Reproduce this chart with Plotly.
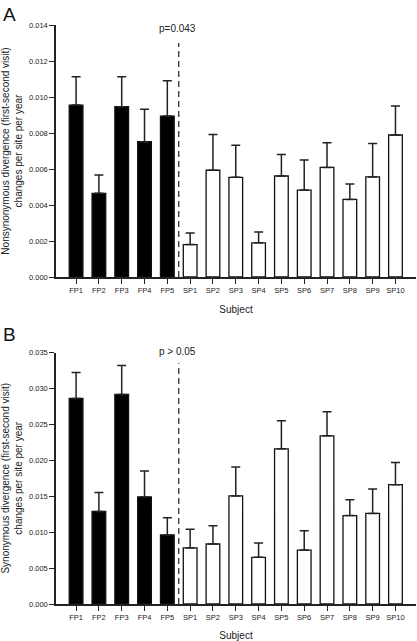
import plotly.graph_objects as go

subjects = ["FP1", "FP2", "FP3", "FP4", "FP5", "SP1", "SP2", "SP3", "SP4", "SP5",
            "SP6", "SP7", "SP8", "SP9", "SP10"]
groups = ["FP"] * 5 + ["SP"] * 10

nonsyn_mean = [0.00955, 0.00465, 0.00946, 0.00752, 0.00894, 0.0018, 0.00593, 0.00554,
               0.0019, 0.00561, 0.00483, 0.00609, 0.00431, 0.00556, 0.00789]
nonsyn_upper = [0.01113, 0.00567, 0.01113, 0.00932, 0.0109, 0.00245, 0.00791, 0.00732,
                0.0025, 0.0068, 0.0065, 0.00746, 0.00517, 0.00741, 0.0095]

syn_mean = [0.0286, 0.01287, 0.02917, 0.0149, 0.0096, 0.0078, 0.00835, 0.01504,
            0.0065, 0.0216, 0.0075, 0.0234, 0.0123, 0.0126, 0.0166]
syn_upper = [0.0322, 0.0155, 0.0332, 0.0185, 0.012, 0.0104, 0.0109, 0.01907,
             0.0085, 0.0255, 0.0102, 0.02675, 0.0145, 0.016, 0.0197]

nonsyn_ticks = [0.0, 0.002, 0.004, 0.006, 0.008, 0.010, 0.012, 0.014]
syn_ticks = [0.0, 0.005, 0.010, 0.015, 0.020, 0.025, 0.030, 0.035]

FONT = "Liberation Sans, Arial, sans-serif"
W, H = 417, 641

x_idx = list(range(len(subjects)))
fill = ["#000000" if g == "FP" else "#ffffff" for g in groups]

fig = go.Figure()


def add_panel(means, uppers, xa, ya):
    plus = [u - m for u, m in zip(uppers, means)]
    fig.add_trace(go.Bar(
        x=x_idx, y=means, width=0.6,
        marker=dict(color=fill, line=dict(color="#111111", width=1.3)),
        error_y=dict(type="data", symmetric=False, array=plus,
                     arrayminus=[0] * len(plus), color="#222222",
                     thickness=1.5, width=4.5),
        xaxis=xa, yaxis=ya, showlegend=False, hoverinfo="skip",
    ))


add_panel(nonsyn_mean, nonsyn_upper, "x", "y")
add_panel(syn_mean, syn_upper, "x2", "y2")

x_dom = [56 / W, 416 / W]
yA = [(H - 277) / H, (H - 25) / H]
yB = [(H - 604) / H, (H - 352.5) / H]

axis_common = dict(showline=True, linecolor="#222222", linewidth=1.5, ticks="outside",
                   tickcolor="#222222", ticklen=5, tickwidth=1.2, showgrid=False,
                   zeroline=False, automargin=False,
                   tickfont=dict(family=FONT, size=7.5, color="#222222"))

xcommon = dict(axis_common, tickmode="array", tickvals=x_idx, ticktext=subjects,
               range=[-0.88, 14.9], domain=x_dom)

TF = dict(family=FONT, size=10, color="#222222")

fig.update_layout(
    width=W, height=H,
    margin=dict(l=0, r=0, t=0, b=0),
    paper_bgcolor="white", plot_bgcolor="white",
    bargap=0.4,
    xaxis=dict(xcommon, anchor="y", title=dict(text="Subject", font=TF, standoff=12)),
    yaxis=dict(axis_common, domain=yA, range=[0, 0.014], tickvals=nonsyn_ticks,
               tickformat=".3f", anchor="x",
               title=dict(text="Nonsynonymous divergence (first-second visit)<br>changes per site per year",
                          font=TF, standoff=4)),
    xaxis2=dict(xcommon, anchor="y2", title=dict(text="Subject", font=TF, standoff=12)),
    yaxis2=dict(axis_common, domain=yB, range=[0, 0.035], tickvals=syn_ticks,
                tickformat=".3f", anchor="x2",
                title=dict(text="Synonymous divergence (first-second visit)<br>changes per site per year",
                           font=TF, standoff=4)),
)

# dashed separators and p-values
fig.add_shape(type="line", xref="x", yref="y", x0=4.5, x1=4.5, y0=0, y1=0.013,
              line=dict(color="#222222", width=1.2, dash="6px,4px"))
fig.add_shape(type="line", xref="x2", yref="y2", x0=4.5, x1=4.5, y0=0, y1=0.0335,
              line=dict(color="#222222", width=1.2, dash="6px,4px"))
fig.add_annotation(x=4.45, y=0.0134, xref="x", yref="y", text="p=0.043", showarrow=False,
                   yanchor="bottom", font=dict(family=FONT, size=10, color="#222222"))
fig.add_annotation(x=4.45, y=0.0341, xref="x2", yref="y2", text="p &gt; 0.05", showarrow=False,
                   yanchor="bottom", font=dict(family=FONT, size=10, color="#222222"))

# panel letters
fig.add_annotation(x=1 / W, y=1 - 2 / H, xref="paper", yref="paper", text="A", showarrow=False,
                   xanchor="left", yanchor="top", font=dict(family=FONT, size=19, color="#111111"))
fig.add_annotation(x=1 / W, y=1 - 322 / H, xref="paper", yref="paper", text="B", showarrow=False,
                   xanchor="left", yanchor="top", font=dict(family=FONT, size=19, color="#111111"))

fig.write_html("out.html", config={"displayModeBar": False},
               post_script="document.body.style.margin='0';")
